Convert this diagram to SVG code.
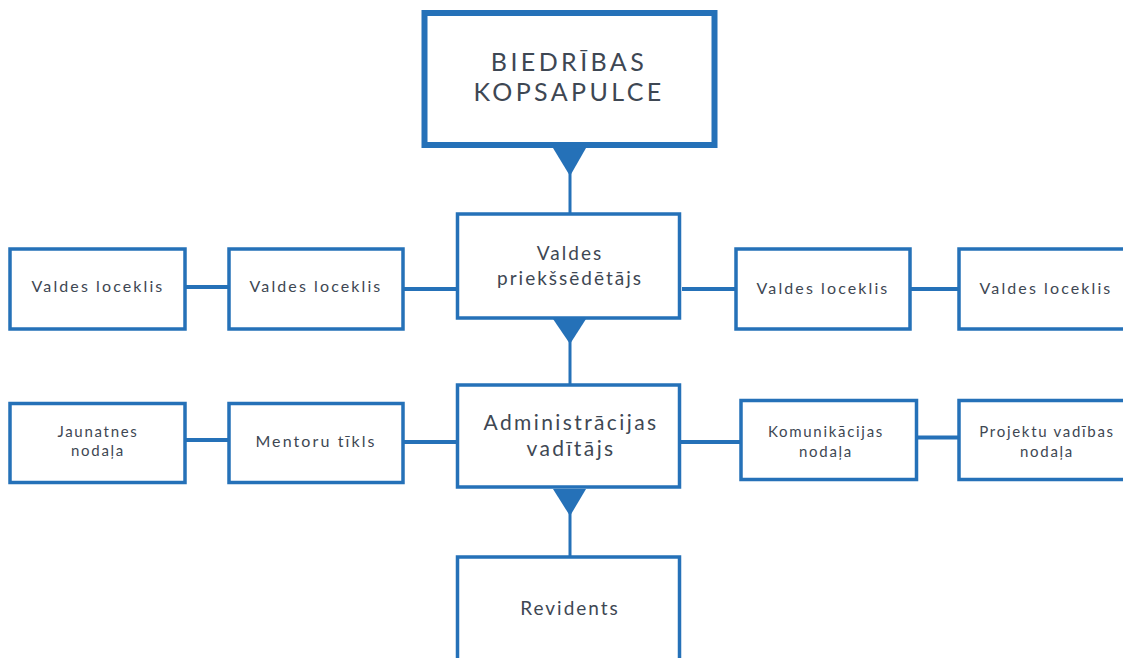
<svg xmlns="http://www.w3.org/2000/svg" width="1123" height="658" viewBox="0 0 1123 658">
<style>
.box{fill:#fff;stroke:#2571b8;stroke-width:3.5}
.big{fill:#fff;stroke:#2571b8;stroke-width:6}
.ln{stroke:#2571b8;stroke-width:4;fill:none}
.vl{stroke:#2571b8;stroke-width:3;fill:none}
.tri{fill:#2571b8}
text{font-family:Lato,"Open Sans","Liberation Sans",sans-serif;fill:#3e4753;text-anchor:middle}
.t16{font-size:16px;letter-spacing:2.1px}
.t15{font-size:15px;letter-spacing:1.7px}
.t19{font-size:19px;letter-spacing:2px}
.t21{font-size:21px;letter-spacing:2.4px}
.t28{font-size:25px;letter-spacing:3.4px}
</style>
<rect width="1123" height="658" fill="#fff"/>
<g id="connectors">
<line class="vl" x1="570" y1="150" x2="570" y2="214"/>
<polygon class="tri" points="553,148 586,148 570,176"/>
<line class="vl" x1="570" y1="320" x2="570" y2="385"/>
<polygon class="tri" points="553,319 586,319 570,344"/>
<line class="vl" x1="570" y1="489" x2="570" y2="557"/>
<polygon class="tri" points="553,489 586,489 570,516"/>
<line class="ln" x1="186" y1="287" x2="229" y2="287"/>
<line class="ln" x1="403" y1="289" x2="457" y2="289"/>
<line class="ln" x1="682" y1="289" x2="736" y2="289"/>
<line class="ln" x1="910" y1="289" x2="959" y2="289"/>
<line class="ln" x1="186" y1="440" x2="229" y2="440"/>
<line class="ln" x1="403" y1="442" x2="457" y2="442"/>
<line class="ln" x1="680" y1="442" x2="741" y2="442"/>
<line class="ln" x1="916" y1="437.5" x2="959" y2="437.5"/>
</g>
<g id="n-kopsapulce">
<rect class="big" x="424.5" y="13" width="290" height="132"/>
<text class="t28" x="569" y="71">BIEDRĪBAS</text>
<text class="t28" x="569" y="101">KOPSAPULCE</text>
</g>
<g id="n-priekssedetajs">
<rect class="box" x="457.5" y="214" width="222" height="104"/>
<text class="t19" x="570" y="260">Valdes</text>
<text class="t19" x="570" y="285">priekšsēdētājs</text>
</g>
<g id="n-vl1">
<rect class="box" x="10" y="249" width="175" height="80"/>
<text class="t16" x="98" y="292">Valdes loceklis</text>
</g>
<g id="n-vl2">
<rect class="box" x="229" y="249" width="174" height="80"/>
<text class="t16" x="316" y="292">Valdes loceklis</text>
</g>
<g id="n-vl3">
<rect class="box" x="736" y="249" width="174" height="80"/>
<text class="t16" x="823" y="294">Valdes loceklis</text>
</g>
<g id="n-vl4">
<rect class="box" x="959" y="249" width="176" height="80"/>
<text class="t16" x="1046" y="294">Valdes loceklis</text>
</g>
<g id="n-admin">
<rect class="box" x="457.5" y="385" width="222" height="102"/>
<text class="t21" x="571" y="430">Administrācijas</text>
<text class="t21" x="571" y="456">vadītājs</text>
</g>
<g id="n-jaunatnes">
<rect class="box" x="10" y="403.5" width="175" height="79"/>
<text class="t15" x="98" y="437">Jaunatnes</text>
<text class="t15" x="98" y="456">nodaļa</text>
</g>
<g id="n-mentoru">
<rect class="box" x="229" y="403.5" width="174" height="79"/>
<text class="t16" x="316" y="447">Mentoru tīkls</text>
</g>
<g id="n-komunikacijas">
<rect class="box" x="741" y="400.5" width="175.5" height="79"/>
<text class="t15" x="826" y="437">Komunikācijas</text>
<text class="t15" x="826" y="457">nodaļa</text>
</g>
<g id="n-projektu">
<rect class="box" x="959" y="400.5" width="176" height="79"/>
<text class="t15" x="1047" y="437">Projektu vadības</text>
<text class="t15" x="1047" y="457">nodaļa</text>
</g>
<g id="n-revidents">
<rect class="box" x="457.5" y="557" width="222" height="110"/>
<text class="t19" x="570" y="615">Revidents</text>
</g>
</svg>
